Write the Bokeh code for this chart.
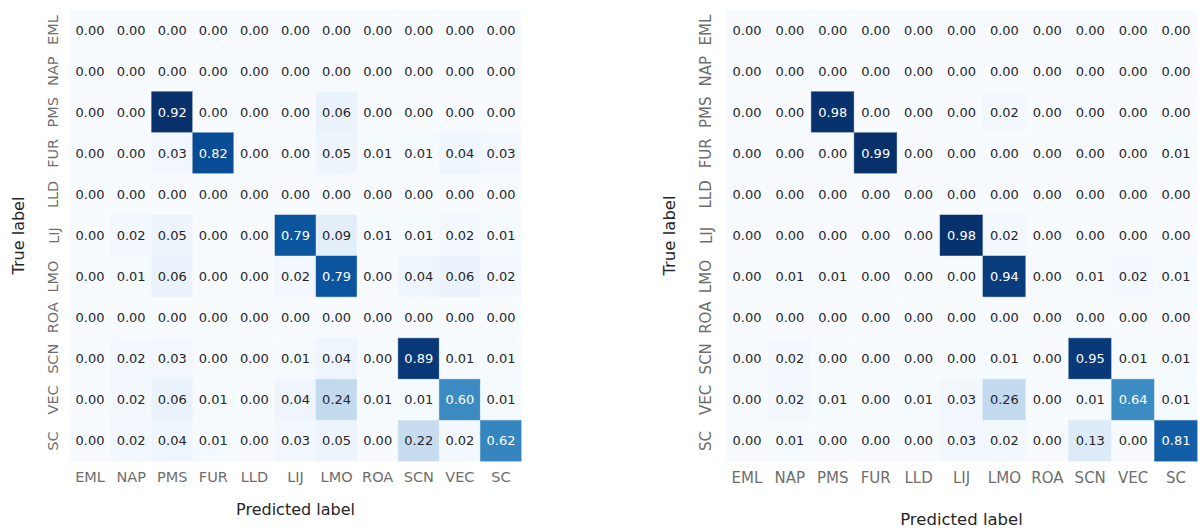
import math
from bokeh.plotting import figure
from bokeh.layouts import row
from bokeh.models import ColumnDataSource, FactorRange
from bokeh.core.properties import value
from bokeh.palettes import Blues256
from bokeh.embed import file_html
from bokeh.resources import INLINE

labels = ["EML", "NAP", "PMS", "FUR", "LLD", "LIJ", "LMO", "ROA", "SCN", "VEC", "SC"]

cm_left = [
    [0.00, 0.00, 0.00, 0.00, 0.00, 0.00, 0.00, 0.00, 0.00, 0.00, 0.00],
    [0.00, 0.00, 0.00, 0.00, 0.00, 0.00, 0.00, 0.00, 0.00, 0.00, 0.00],
    [0.00, 0.00, 0.92, 0.00, 0.00, 0.00, 0.06, 0.00, 0.00, 0.00, 0.00],
    [0.00, 0.00, 0.03, 0.82, 0.00, 0.00, 0.05, 0.01, 0.01, 0.04, 0.03],
    [0.00, 0.00, 0.00, 0.00, 0.00, 0.00, 0.00, 0.00, 0.00, 0.00, 0.00],
    [0.00, 0.02, 0.05, 0.00, 0.00, 0.79, 0.09, 0.01, 0.01, 0.02, 0.01],
    [0.00, 0.01, 0.06, 0.00, 0.00, 0.02, 0.79, 0.00, 0.04, 0.06, 0.02],
    [0.00, 0.00, 0.00, 0.00, 0.00, 0.00, 0.00, 0.00, 0.00, 0.00, 0.00],
    [0.00, 0.02, 0.03, 0.00, 0.00, 0.01, 0.04, 0.00, 0.89, 0.01, 0.01],
    [0.00, 0.02, 0.06, 0.01, 0.00, 0.04, 0.24, 0.01, 0.01, 0.60, 0.01],
    [0.00, 0.02, 0.04, 0.01, 0.00, 0.03, 0.05, 0.00, 0.22, 0.02, 0.62],
]

cm_right = [
    [0.00, 0.00, 0.00, 0.00, 0.00, 0.00, 0.00, 0.00, 0.00, 0.00, 0.00],
    [0.00, 0.00, 0.00, 0.00, 0.00, 0.00, 0.00, 0.00, 0.00, 0.00, 0.00],
    [0.00, 0.00, 0.98, 0.00, 0.00, 0.00, 0.02, 0.00, 0.00, 0.00, 0.00],
    [0.00, 0.00, 0.00, 0.99, 0.00, 0.00, 0.00, 0.00, 0.00, 0.00, 0.01],
    [0.00, 0.00, 0.00, 0.00, 0.00, 0.00, 0.00, 0.00, 0.00, 0.00, 0.00],
    [0.00, 0.00, 0.00, 0.00, 0.00, 0.98, 0.02, 0.00, 0.00, 0.00, 0.00],
    [0.00, 0.01, 0.01, 0.00, 0.00, 0.00, 0.94, 0.00, 0.01, 0.02, 0.01],
    [0.00, 0.00, 0.00, 0.00, 0.00, 0.00, 0.00, 0.00, 0.00, 0.00, 0.00],
    [0.00, 0.02, 0.00, 0.00, 0.00, 0.00, 0.01, 0.00, 0.95, 0.01, 0.01],
    [0.00, 0.02, 0.01, 0.00, 0.01, 0.03, 0.26, 0.00, 0.01, 0.64, 0.01],
    [0.00, 0.01, 0.00, 0.00, 0.00, 0.03, 0.02, 0.00, 0.13, 0.00, 0.81],
]

x_title = "Predicted label"
y_title = "True label"

PAL = list(reversed(Blues256))  # light -> dark
FONT = "DejaVu Sans"


def rel_lum(hexcol):
    rgb = [int(hexcol[i:i + 2], 16) / 255 for i in (1, 3, 5)]
    lin = [c / 12.92 if c <= 0.03928 else ((c + 0.055) / 1.055) ** 2.4 for c in rgb]
    return 0.2126 * lin[0] + 0.7152 * lin[1] + 0.0722 * lin[2]


def build(cm, width, height, bl, br, bt, bb, tick_px, lab_px, ann_px,
          x_ts, x_ls, y_ts, y_ls):
    vmax = max(max(r) for r in cm)
    xs, ys, vals, cols, tcols, txt = [], [], [], [], [], []
    for i, t in enumerate(labels):
        for j, pr in enumerate(labels):
            v = cm[i][j]
            idx = min(255, int(v / vmax * 256))
            c = PAL[idx]
            xs.append(pr)
            ys.append(t)
            vals.append(v)
            cols.append(c)
            tcols.append("#262626" if rel_lum(c) > 0.408 else "#ffffff")
            txt.append(f"{v:.2f}")
    src = ColumnDataSource(dict(x=xs, y=ys, v=vals, c=cols, tc=tcols, t=txt))
    p = figure(width=width, height=height,
               x_range=FactorRange(factors=labels),
               y_range=FactorRange(factors=list(reversed(labels))),
               output_backend="svg", toolbar_location=None,
               min_border_left=bl, min_border_right=br,
               min_border_top=bt, min_border_bottom=bb)
    p.rect(x="x", y="y", width=1, height=1, source=src,
           fill_color="c", line_color="c", line_width=0.5)
    p.text(x="x", y="y", text="t", source=src, text_color="tc",
           text_align="center", text_baseline="middle",
           text_font=value(FONT), text_font_size=ann_px)
    p.outline_line_color = None
    p.grid.visible = False
    for ax in (p.xaxis[0], p.yaxis[0]):
        ax.axis_line_color = None
        ax.major_tick_line_color = None
        ax.minor_tick_line_color = None
        ax.major_label_text_font = FONT
        ax.major_label_text_font_size = tick_px
        ax.major_label_text_color = "#6e6e6e"
        ax.axis_label_text_font = FONT
        ax.axis_label_text_font_size = lab_px
        ax.axis_label_text_font_style = "normal"
        ax.axis_label_text_color = "#262626"
        ax.major_tick_out = 0
        ax.major_tick_in = 0
    p.xaxis.axis_label = x_title
    p.yaxis.axis_label = y_title
    p.xaxis.major_label_standoff = x_ts
    p.xaxis.axis_label_standoff = x_ls
    p.yaxis.major_label_standoff = y_ts
    p.yaxis.axis_label_standoff = y_ls
    p.yaxis.major_label_orientation = "parallel"
    return p


p1 = build(cm_left, 600, 531, 69, 79, 9, 70, "14.5px", "16px", "13px",
           7, 12, 8, 15)
p2 = build(cm_right, 599, 531, 125, 2, 0, 61, "15px", "16.5px", "13px",
           7, 20, 10, 16)

layout = row(p1, p2)
open("out.html", "w").write(file_html(layout, INLINE))
